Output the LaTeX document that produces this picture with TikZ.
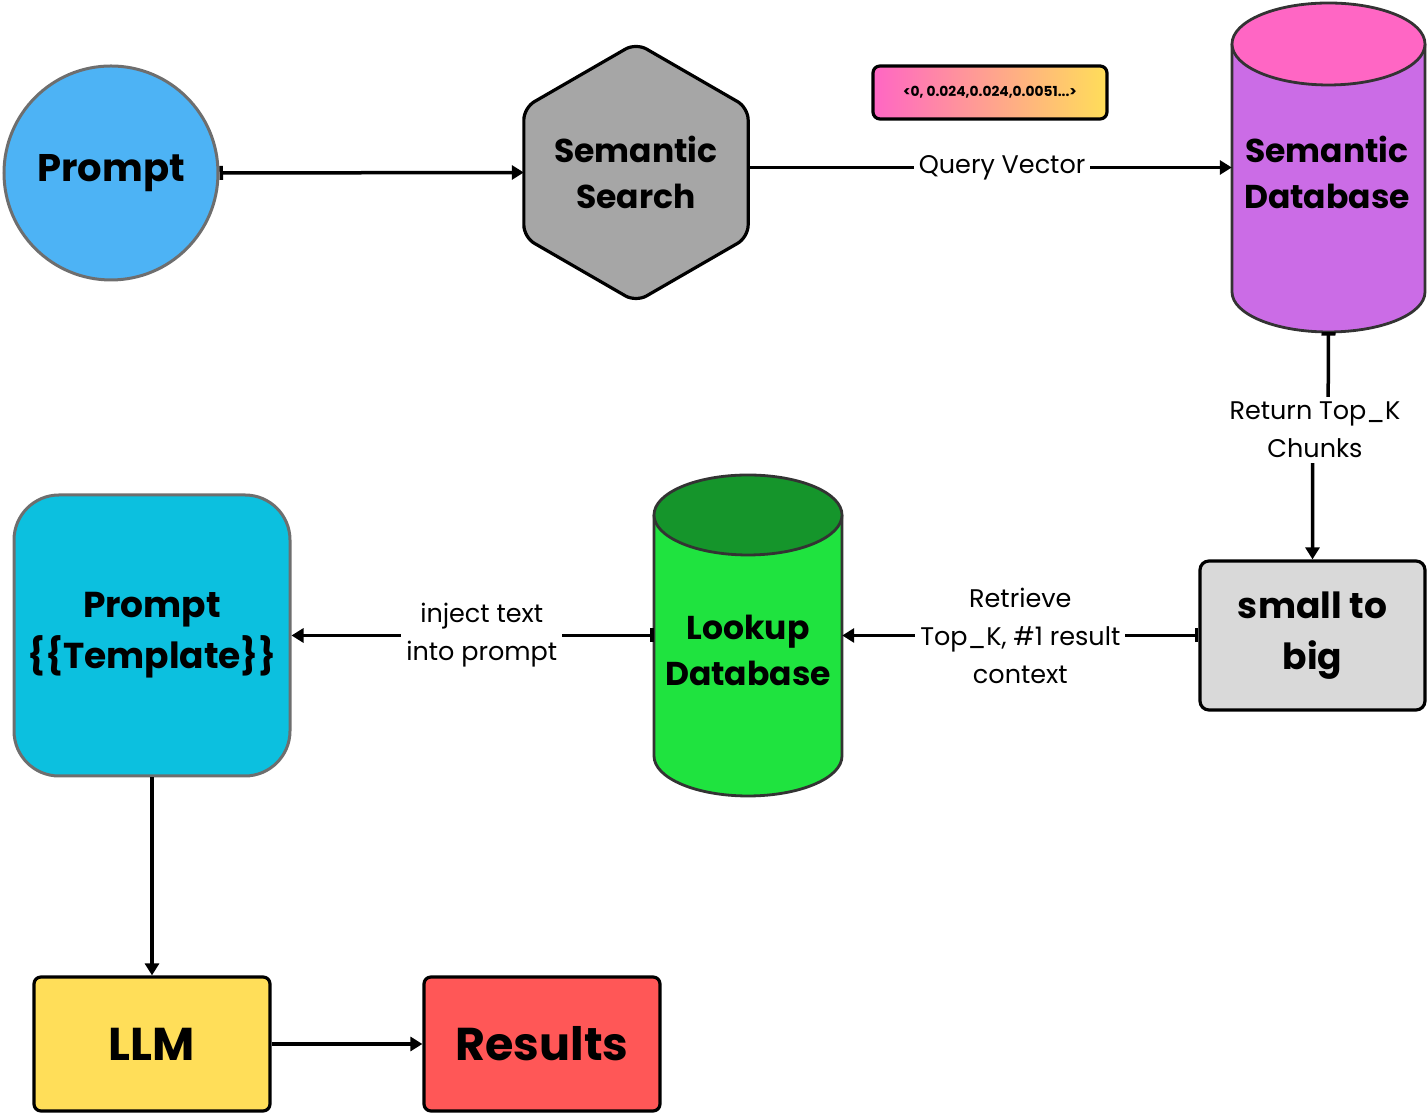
\documentclass[tikz,border=0pt]{standalone}
\usepackage{fontspec}
\setmainfont{Poppins}
\usetikzlibrary{arrows.meta,shapes.geometric}
\definecolor{promptblue}{HTML}{4DB3F5}
\definecolor{bordergray}{HTML}{6E6E6E}
\definecolor{hexgray}{HTML}{A6A6A6}
\definecolor{vecpink}{HTML}{FF66C4}
\definecolor{vecyellow}{HTML}{FFDE59}
\definecolor{dbpink}{HTML}{FF66C4}
\definecolor{dbpurple}{HTML}{CB6CE6}
\definecolor{cylline}{HTML}{333333}
\definecolor{lkdark}{HTML}{15952B}
\definecolor{lkgreen}{HTML}{1FE33F}
\definecolor{smallgray}{HTML}{D9D9D9}
\definecolor{tmplcyan}{HTML}{0CC0DF}
\definecolor{llmyellow}{HTML}{FFDE59}
\definecolor{resred}{HTML}{FF5757}
\begin{document}
\begin{tikzpicture}[x=1pt,y=1pt,
  lbl/.style={font=\fontsize{33}{46}\selectfont\bfseries, align=center, text=black},
  biglbl/.style={font=\fontsize{36}{51}\selectfont\bfseries, align=center, text=black},
  edgelbl/.style={fill=white, font=\fontsize{25.5}{38}\selectfont, align=center, inner sep=5pt, text=black},
  conn/.style={line width=3.5pt, {Bar[width=14pt]}-{Triangle[width=14pt,length=12pt]}},
  plainarrow/.style={line width=3.5pt, -{Triangle[width=14pt,length=12pt]}},
  cylstyle/.style={draw=cylline, line width=2.8pt},
  boxed/.style={draw=black, line width=3.2pt, inner sep=0pt},
]
\useasboundingbox (0,0) rectangle (1428,1115);

% Prompt circle
\node[circle, draw=bordergray, line width=3pt, fill=promptblue, minimum size=214pt, inner sep=0pt,
  font=\fontsize{38.5}{42}\selectfont\bfseries] (prompt) at (111,942) {Prompt};

% Semantic search hexagon
\node[regular polygon, regular polygon sides=6, shape border rotate=30, minimum size=259pt,
  inner sep=0pt, outer sep=0pt, draw=black, line width=3.2pt, fill=hexgray, rounded corners=12pt] (hex) at (636,942.5) {};
\node[lbl] (hextxt) at (636,942.5) {Semantic\\Search};

% Vector box
\node[boxed, rounded corners=7pt, left color=vecpink, right color=vecyellow, minimum width=234pt,
  minimum height=53pt, font=\fontsize{13.8}{15}\selectfont\bfseries] (vec) at (990,1022.5) {<0, 0.024,0.024,0.0051...>};

% Semantic Database cylinder
\draw[cylstyle, fill=dbpurple] (1232,1071) -- (1232,823) arc[start angle=180, end angle=360, x radius=96.5, y radius=40] -- (1425,1071);
\draw[cylstyle, fill=dbpink] (1328.5,1071) ellipse [x radius=96.5, y radius=41];
\node[minimum width=193pt, minimum height=329pt, inner sep=0pt] (sdb) at (1328.5,947.5) {};
\node[lbl] (sdbtxt) at (1327,943) {Semantic\\Database};

% small to big
\node[boxed, rounded corners=9pt, fill=smallgray, minimum width=225pt, minimum height=149pt, biglbl] (s2b) at (1312.5,479.5) {small to\\big};

% Lookup Database cylinder
\draw[cylstyle, fill=lkgreen] (654,600) -- (654,359) arc[start angle=180, end angle=360, x radius=94, y radius=40] -- (842,600);
\draw[cylstyle, fill=lkdark] (748,600) ellipse [x radius=94, y radius=40];
\node[minimum width=188pt, minimum height=321pt, inner sep=0pt] (ldb) at (748,479.5) {};
\node[lbl] (ldbtxt) at (748,465) {Lookup\\Database};

% Prompt template
\node[draw=bordergray, line width=3pt, rounded corners=45pt, fill=tmplcyan, minimum width=276pt,
  minimum height=281pt, inner sep=0pt, biglbl] (tmpl) at (152,479.5) {Prompt\\\{\{Template\}\}};

% LLM and Results
\node[boxed, rounded corners=7pt, fill=llmyellow, minimum width=236pt, minimum height=134pt,
  font=\fontsize{46}{50}\selectfont\bfseries] (llm) at (152,71) {LLM};
\node[boxed, rounded corners=7pt, fill=resred, minimum width=236pt, minimum height=134pt,
  font=\fontsize{46}{50}\selectfont\bfseries] (res) at (542,71) {Results};

% Connectors
\draw[conn] (prompt.east) -- (hex.west);
\draw[plainarrow] (hex.east |- sdb.west) -- node[edgelbl, pos=0.525] (qv) {Query Vector} (sdb.west);
\draw[conn] (sdb.south) -- (1328,685) -| (s2b.north);
\node[edgelbl] (rtk) at (1315,685) {Return Top\_K\\Chunks};
\draw[conn] (s2b.west) -- node[edgelbl] (rtr) {Retrieve\\Top\_K, \#1 result\\context} (ldb.east);
\draw[conn] (ldb.west) -- node[edgelbl, pos=0.475] (inj) {inject text\\into prompt} (tmpl.east);
\draw[plainarrow] (tmpl.south) -- (llm.north);
\draw[plainarrow] (llm.east) -- (res.west);
\end{tikzpicture}
\end{document}
